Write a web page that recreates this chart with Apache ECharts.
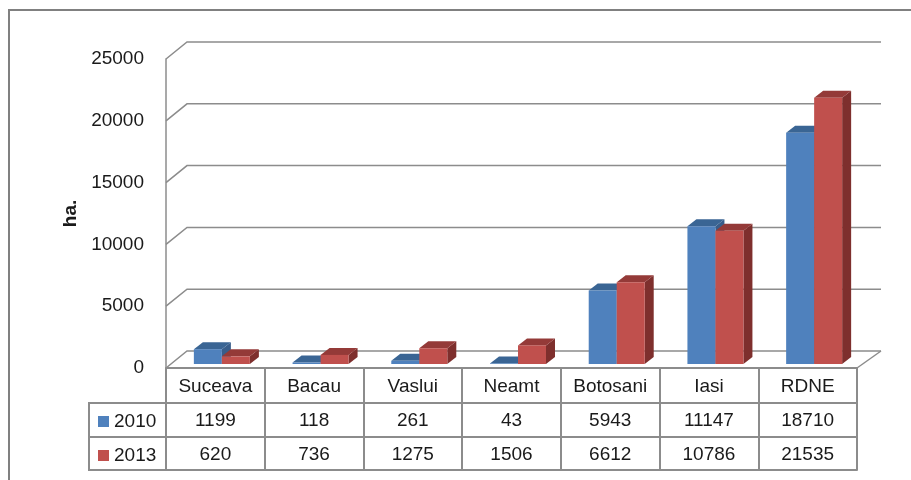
<!DOCTYPE html>
<html>
<head>
<meta charset="utf-8">
<script src="https://cdn.jsdelivr.net/npm/echarts@6/dist/echarts.min.js"></script>
<style>
  html, body { margin: 0; padding: 0; background: #fff; }
  #chart { width: 911px; height: 480px; }
</style>
</head>
<body>
<div id="chart"></div>
<script>
// date
var categories = ['Suceava', 'Bacau', 'Vaslui', 'Neamt', 'Botosani', 'Iasi', 'RDNE'];
var values2010 = [1199, 118, 261, 43, 5943, 11147, 18710];
var values2013 = [620, 736, 1275, 1506, 6612, 10786, 21535];
var yTicks = [0, 5000, 10000, 15000, 20000, 25000];

var gray = '#8c8c8c';
var font = 'Liberation Sans';

var chart = echarts.init(document.getElementById('chart'));

// adancimea peretilor (perspectiva)
var wallDx = 21, wallDy = -17;
// bara 3D
var barW = 28, sideDx = 9, sideDy = -7, barLift = 4;

function barRenderer(shift, front, top, side) {
  return function (params, api) {
    var i = api.value(0);
    var p = api.coord([i, api.value(1)]);
    var b = api.coord([i, 0]);
    var x0 = p[0] + shift;
    var y1 = b[1] - barLift;
    var y0 = p[1] - barLift;
    return {
      type: 'group',
      children: [
        { type: 'polygon', shape: { points: [[x0 + barW, y0], [x0 + barW + sideDx, y0 + sideDy], [x0 + barW + sideDx, y1 + sideDy], [x0 + barW, y1]] }, style: { fill: side } },
        { type: 'polygon', shape: { points: [[x0, y0], [x0 + barW, y0], [x0 + barW + sideDx, y0 + sideDy], [x0 + sideDx, y0 + sideDy]] }, style: { fill: top } },
        { type: 'rect', shape: { x: x0, y: y0, width: barW, height: y1 - y0 }, style: { fill: front } }
      ]
    };
  };
}

var option = {
  animation: false,
  textStyle: { fontFamily: font },
  grid: { left: 166, right: 54, top: 59, bottom: 112 },
  legend: {
    data: ['2010', '2013'],
    orient: 'vertical',
    left: 98,
    top: 412,
    padding: 0,
    icon: 'rect',
    itemWidth: 11,
    itemHeight: 11,
    itemGap: 15,
    textStyle: { fontSize: 19, lineHeight: 19, color: '#1a1a1a', fontFamily: font },
    selectedMode: false
  },
  xAxis: [
    {
      type: 'category',
      data: categories,
      position: 'bottom',
      axisLine: { show: true, lineStyle: { color: gray, width: 2 } },
      axisTick: { show: true, length: 102, interval: 0, lineStyle: { color: gray, width: 2 } },
      axisLabel: { interval: 0, margin: 9, fontSize: 19, color: '#1a1a1a', fontFamily: font },
      splitLine: { show: false }
    },
    {
      type: 'category',
      data: categories,
      position: 'bottom',
      offset: 35,
      axisLine: { show: true, lineStyle: { color: gray, width: 2 } },
      axisTick: { show: false },
      axisLabel: {
        interval: 0, margin: 8, fontSize: 19, color: '#1a1a1a', fontFamily: font,
        formatter: function (v, idx) { return String(values2010[idx]); }
      }
    },
    {
      type: 'category',
      data: categories,
      position: 'bottom',
      offset: 69,
      axisLine: { show: true, lineStyle: { color: gray, width: 2 } },
      axisTick: { show: false },
      axisLabel: {
        interval: 0, margin: 8, fontSize: 19, color: '#1a1a1a', fontFamily: font,
        formatter: function (v, idx) { return String(values2013[idx]); }
      }
    },
    {
      type: 'category',
      data: categories,
      position: 'bottom',
      offset: 102,
      axisLine: { show: true, lineStyle: { color: gray, width: 2 } },
      axisTick: { show: false },
      axisLabel: { show: false }
    }
  ],
  yAxis: {
    type: 'value',
    min: 0,
    max: 25000,
    interval: 5000,
    name: 'ha.',
    nameLocation: 'middle',
    nameRotate: 90,
    nameGap: 82,
    nameTextStyle: { fontSize: 19, fontWeight: 'bold', color: '#1a1a1a', fontFamily: font },
    axisLine: { show: true, lineStyle: { color: gray, width: 1.5 } },
    axisTick: { show: false },
    axisLabel: {
      margin: 22, fontSize: 19, color: '#1a1a1a', fontFamily: font,
      formatter: function (v) { return String(v); }
    },
    splitLine: { show: false }
  },
  graphic: [
    // chenarul exterior
    { type: 'rect', shape: { x: 9, y: 10, width: 1000, height: 1000 }, style: { fill: null, stroke: '#808080', lineWidth: 2 }, z: -10 },
    // casuta legendei din tabel
    { type: 'rect', shape: { x: 89, y: 403, width: 77, height: 67 }, style: { fill: null, stroke: gray, lineWidth: 2 } },
    { type: 'line', shape: { x1: 89, y1: 437, x2: 166, y2: 437 }, style: { stroke: gray, lineWidth: 2 } }
  ],
  series: [
    {
      // peretele din spate + podeaua
      type: 'custom',
      silent: true,
      z: 1,
      data: yTicks.map(function (t) { return [0, t]; }),
      renderItem: function (params, api) {
        var cs = params.coordSys;
        var y = api.coord([0, api.value(1)])[1];
        var left = cs.x, right = cs.x + cs.width;
        var children = [{
          type: 'polyline',
          shape: { points: [[left, y], [left + wallDx, y + wallDy], [right + wallDx + 3, y + wallDy]] },
          style: { stroke: gray, lineWidth: 1.5, fill: null }
        }];
        if (api.value(1) === 0) {
          children.push({
            type: 'line',
            shape: { x1: right, y1: y, x2: right + wallDx + 3, y2: y + wallDy },
            style: { stroke: gray, lineWidth: 1.5 }
          });
        }
        return { type: 'group', children: children };
      }
    },
    {
      name: '2010',
      type: 'custom',
      z: 2,
      itemStyle: { color: '#4F81BD' },
      data: values2010.map(function (v, i) { return [i, v]; }),
      renderItem: barRenderer(-21.5, '#4F81BD', '#3A6594', '#385D8A')
    },
    {
      name: '2013',
      type: 'custom',
      z: 3,
      itemStyle: { color: '#C0504D' },
      data: values2013.map(function (v, i) { return [i, v]; }),
      renderItem: barRenderer(6.5, '#C0504D', '#943A38', '#7E2F2D')
    }
  ]
};

chart.setOption(option);
</script>
</body>
</html>
